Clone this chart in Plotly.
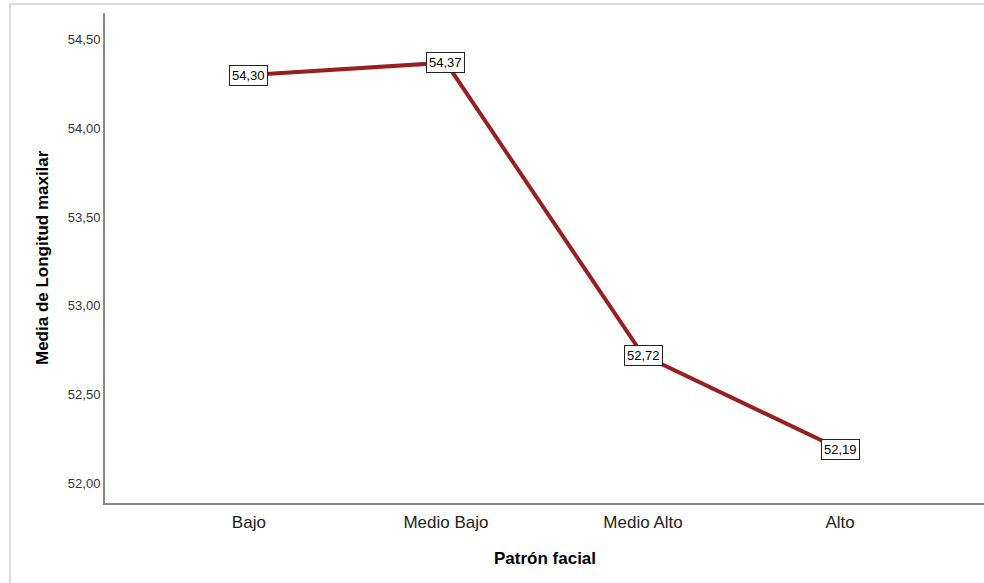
import plotly.graph_objects as go

categories = ["Bajo", "Medio Bajo", "Medio Alto", "Alto"]
means = [54.30, 54.37, 52.72, 52.19]
y_ticks = [52.00, 52.50, 53.00, 53.50, 54.00, 54.50]

def fmt(v):
    return f"{v:.2f}".replace(".", ",")

W, H = 984, 583
ML, MR, MT, MB = 105, 0, 13, 80
pw, ph = W - ML - MR, H - MT - MB

fig = go.Figure()
fig.add_trace(go.Scatter(
    x=categories, y=means, mode="lines",
    line=dict(color="#9a1e1e", width=4),
    hoverinfo="skip", showlegend=False,
))

annotations = []
for c, v in zip(categories, means):
    annotations.append(dict(
        x=c, y=v, xref="x", yref="y", text=fmt(v), showarrow=False,
        font=dict(family="Liberation Sans, Arial", size=13, color="#000"),
        bgcolor="white", bordercolor="#222", borderwidth=1, borderpad=2,
    ))
annotations.append(dict(
    x=0, y=0.5, xref="paper", yref="paper", xshift=-63, text="<b>Media de Longitud maxilar</b>",
    textangle=-90, showarrow=False, xanchor="center", yanchor="middle",
    font=dict(family="Liberation Sans, Arial", size=17, color="#000"),
))
annotations.append(dict(
    x=0.5, y=0, xref="paper", yref="paper", yshift=-55, text="<b>Patrón facial</b>",
    showarrow=False, xanchor="center", yanchor="middle",
    font=dict(family="Liberation Sans, Arial", size=17, color="#000"),
))

bx = (10 - ML) / pw
by_top = (H - MB - 4) / ph
by_bot = (H - MB - H) / ph
shapes = [
    dict(type="line", xref="paper", yref="paper", x0=bx, x1=1.0, y0=by_top, y1=by_top,
         line=dict(color="#d0d0d0", width=1.5)),
    dict(type="line", xref="paper", yref="paper", x0=bx, x1=bx, y0=by_top, y1=by_bot,
         line=dict(color="#d0d0d0", width=1.5)),
]

fig.update_layout(
    width=W, height=H,
    margin=dict(l=ML, r=MR, t=MT, b=MB),
    paper_bgcolor="white", plot_bgcolor="white",
    font=dict(family="Liberation Sans, Arial", color="#222"),
    annotations=annotations, shapes=shapes,
    xaxis=dict(
        type="category", range=[-0.73, 3.73], showline=True, linecolor="#8a8a8a",
        linewidth=2, showgrid=False, zeroline=False, ticks="",
        tickfont=dict(size=17, color="#222"), ticklabelstandoff=3,
    ),
    yaxis=dict(
        range=[51.887, 54.65], showline=True, linecolor="#8a8a8a", linewidth=2,
        showgrid=False, zeroline=False, ticks="",
        tickvals=y_ticks, ticktext=[fmt(v) for v in y_ticks],
        tickfont=dict(size=13, color="#333"),
    ),
)

fig.write_html(
    "out.html",
    config={"displayModeBar": False},
    post_script="document.body.style.margin='0';document.body.style.overflow='hidden';",
)
